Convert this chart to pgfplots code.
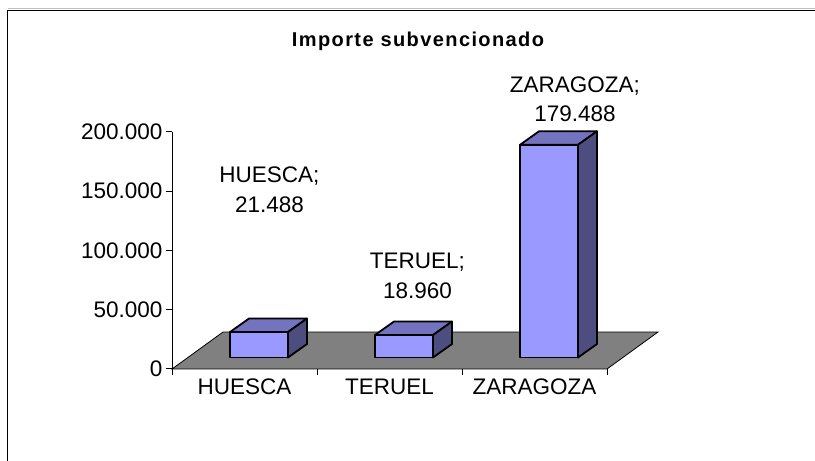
\documentclass[border=0pt]{standalone}
\usepackage{pgfplots}
\pgfplotsset{compat=1.18}
\usepackage{fontspec}
\setmainfont{Liberation Sans}
\newfontfamily\titlefont[LetterSpace=7]{Liberation Sans}
\definecolor{barfront}{HTML}{9999FF}
\definecolor{bartop}{HTML}{7373C0}
\definecolor{barside}{HTML}{4D4D80}
\definecolor{floorgray}{HTML}{808080}
% bar geometry (axis units)
\def\bw{0.4}\def\bdx{0.131}\def\bdy{11.39}\def\bb{9.70}
\newcommand{\barthreed}[2]{%
  \pgfmathsetmacro\La{#1}\pgfmathsetmacro\Lb{#1+\bw}%
  \pgfmathsetmacro\Lc{#1+\bw+\bdx}\pgfmathsetmacro\Ld{#1+\bdx}%
  \pgfmathsetmacro\Ya{\bb}\pgfmathsetmacro\Yb{\bb+#2}%
  \pgfmathsetmacro\Yc{\bb+#2+\bdy}\pgfmathsetmacro\Yd{\bb+\bdy}%
  \edef\tmp{%
   \noexpand\addplot[fill=barfront,draw=black,line width=1.8pt,line join=round,mark=none] coordinates {(\La,\Ya) (\Lb,\Ya) (\Lb,\Yb) (\La,\Yb)} -- cycle;
   \noexpand\addplot[fill=bartop,draw=black,line width=1.8pt,line join=round,mark=none] coordinates {(\La,\Yb) (\Lb,\Yb) (\Lc,\Yc) (\Ld,\Yc)} -- cycle;
   \noexpand\addplot[fill=barside,draw=black,line width=1.8pt,line join=round,mark=none] coordinates {(\Lb,\Ya) (\Lc,\Yd) (\Lc,\Yc) (\Lb,\Yb)} -- cycle;
  }\tmp}
\begin{document}
\begin{tikzpicture}[x=1pt,y=1pt,font=\fontsize{22.5}{27}\selectfont]
\useasboundingbox (0,0) rectangle (815,461);
\draw[black!25,line width=0.8pt] (7.5,452.5) -- (815,452.5);
\draw[line width=1.5pt] (7.5,0) -- (7.5,450.5) -- (815,450.5);
\node[anchor=base,font=\titlefont\bfseries\fontsize{20}{23}\selectfont] at (418,414) {Importe subvencionado};
\begin{axis}[
  at={(172pt,92pt)}, anchor=origin,
  scale only axis, width=435pt, height=237pt,
  xmin=0, xmax=3, ymin=0, ymax=200,
  clip=false,
  axis lines*=left,
  axis line style={line width=1pt},
  tick align=outside,
  major tick length=6pt,
  tick style={black,line width=1pt},
  xtick={0,1,2,3},
  xticklabels={HUESCA,TERUEL,ZARAGOZA},
  x tick label as interval,
  ytick={0,50,100,150,200},
  yticklabels={0,50.000,100.000,150.000,200.000},
  /pgf/number format/assume math mode=true,
  tick label style={font=\fontsize{22.5}{27}\selectfont},
]
% floor
\addplot[fill=floorgray,draw=black,line width=0.8pt,mark=none] coordinates {(0,0) (3,0) (3.352,31.22) (0.352,31.22)} -- cycle;
% bars: left edge, value (thousands)
\barthreed{0.4}{21.488}
\barthreed{1.4}{18.960}
\barthreed{2.4}{179.488}
% data labels
\node[anchor=base] at (axis cs:0.672,157.6) {HUESCA;};
\node[anchor=base] at (axis cs:0.672,131.9) {21.488};
\node[anchor=base] at (axis cs:1.693,85.0) {TERUEL;};
\node[anchor=base] at (axis cs:1.693,59.7) {18.960};
\node[anchor=base] at (axis cs:2.779,233.5) {ZARAGOZA;};
\node[anchor=base] at (axis cs:2.779,208.7) {179.488};
\end{axis}
\end{tikzpicture}
\end{document}
